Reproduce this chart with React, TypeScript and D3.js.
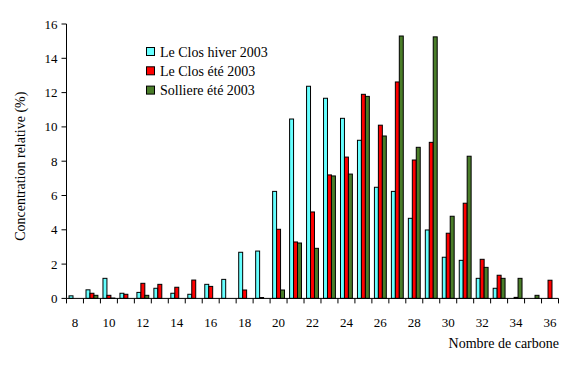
import { useEffect, useRef } from 'react';
import * as d3 from 'd3';

// Nombre de carbone (C8 .. C36)
const carbons = d3.range(8, 37);

// Concentration relative (%) per carbon number
const leClosHiver = [
  0.15, 0.5, 1.17, 0.3, 0.35, 0.59, 0.3, 0.24, 0.82, 1.11, 2.69, 2.76, 6.24, 10.46, 12.37,
  11.67, 10.5, 9.22, 6.48, 6.24, 4.67, 3.99, 2.4, 2.22, 1.17, 0.59, 0, 0, 0,
];
const leClosEte = [
  0, 0.3, 0.18, 0.24, 0.88, 0.82, 0.65, 1.07, 0.7, 0, 0.49, 0.05, 4.03, 3.29, 5.04,
  7.2, 8.24, 11.9, 10.1, 12.62, 8.07, 9.1, 3.8, 5.55, 2.28, 1.35, 0.06, 0, 1.06,
];
const solliereEte = [
  0, 0.18, 0.02, 0, 0.18, 0, 0, 0, 0, 0, 0, 0, 0.49, 3.23, 2.92,
  7.14, 7.25, 11.78, 9.47, 15.3, 8.81, 15.25, 4.79, 8.29, 1.81, 1.17, 1.17, 0.18, 0,
];

const yTicks = [0, 2, 4, 6, 8, 10, 12, 14, 16];
const xLabels = [8, 10, 12, 14, 16, 18, 20, 22, 24, 26, 28, 30, 32, 34, 36];

const series = [
  { label: 'Le Clos hiver 2003', values: leClosHiver, color: '#66ffff' },
  { label: 'Le Clos été 2003', values: leClosEte, color: '#ff0000' },
  { label: 'Solliere été 2003', values: solliereEte, color: '#4a7d29' },
];

export default function App() {
  const svgRef = useRef<SVGSVGElement>(null);

  useEffect(() => {
    if (!svgRef.current) return;
    const svg = d3.select(svgRef.current);
    svg.selectAll('*').remove();

    const left = 66.5;
    const right = 558.5;
    const top = 24;
    const bottom = 298.4;

    const x = d3.scaleBand<number>()
      .domain(carbons)
      .range([left, right])
      .paddingInner(0.3)
      .paddingOuter(0.15);

    const sub = d3.scaleBand<number>()
      .domain([0, 1, 2])
      .range([0, x.bandwidth()]);

    const y = d3.scaleLinear().domain([0, 16]).range([bottom, top]);

    const step = x.step();

    // Bars
    series.forEach((s, si) => {
      svg.append('g')
        .selectAll('rect')
        .data(carbons.map((c, i) => ({ c, v: s.values[i] })).filter(d => d.v > 0))
        .enter()
        .append('rect')
        .attr('x', d => (x(d.c) as number) + (sub(si) as number))
        .attr('y', d => y(d.v))
        .attr('width', sub.bandwidth())
        .attr('height', d => bottom - y(d.v))
        .attr('fill', s.color)
        .attr('stroke', '#000')
        .attr('stroke-width', 1);
    });

    // Y axis
    const yAxis = svg.append('g');
    yAxis.append('line')
      .attr('x1', left).attr('x2', left)
      .attr('y1', top).attr('y2', bottom)
      .attr('stroke', '#000');
    yTicks.forEach(t => {
      yAxis.append('line')
        .attr('x1', left - 5).attr('x2', left)
        .attr('y1', y(t)).attr('y2', y(t))
        .attr('stroke', '#000');
      yAxis.append('text')
        .attr('x', left - 9)
        .attr('y', y(t) + 4.5)
        .attr('text-anchor', 'end')
        .attr('font-size', 13)
        .text(t);
    });

    // X axis
    const xAxis = svg.append('g');
    xAxis.append('line')
      .attr('x1', left).attr('x2', right)
      .attr('y1', bottom).attr('y2', bottom)
      .attr('stroke', '#000');
    d3.range(carbons.length + 1).forEach(i => {
      const px = left + i * step;
      xAxis.append('line')
        .attr('x1', px).attr('x2', px)
        .attr('y1', bottom).attr('y2', bottom + 5)
        .attr('stroke', '#000');
    });
    xLabels.forEach(c => {
      xAxis.append('text')
        .attr('x', (x(c) as number) + x.bandwidth() / 2)
        .attr('y', 327)
        .attr('text-anchor', 'middle')
        .attr('font-size', 13)
        .text(c);
    });

    // Axis titles
    svg.append('text')
      .attr('x', 559)
      .attr('y', 348)
      .attr('text-anchor', 'end')
      .attr('font-size', 14)
      .text('Nombre de carbone');

    svg.append('text')
      .attr('transform', `translate(25, ${(top + bottom) / 2 + 5}) rotate(-90)`)
      .attr('text-anchor', 'middle')
      .attr('font-size', 14)
      .text('Concentration relative (%)');

    // Legend
    const legend = svg.append('g').attr('transform', 'translate(146, 47)');
    series.forEach((s, i) => {
      const row = legend.append('g').attr('transform', `translate(0, ${i * 19.3})`);
      row.append('rect')
        .attr('x', 0.5).attr('y', 0.5)
        .attr('width', 8).attr('height', 8)
        .attr('fill', s.color)
        .attr('stroke', '#000');
      row.append('text')
        .attr('x', 14)
        .attr('y', 9.5)
        .attr('font-size', 14)
        .text(s.label);
    });
  }, []);

  return (
    <svg
      ref={svgRef}
      width={578}
      height={368}
      fontFamily="'Liberation Serif', 'Times New Roman', 'DejaVu Serif', serif"
      style={{ position: 'absolute', left: 0, top: 0, background: '#fff' }}
    />
  );
}
